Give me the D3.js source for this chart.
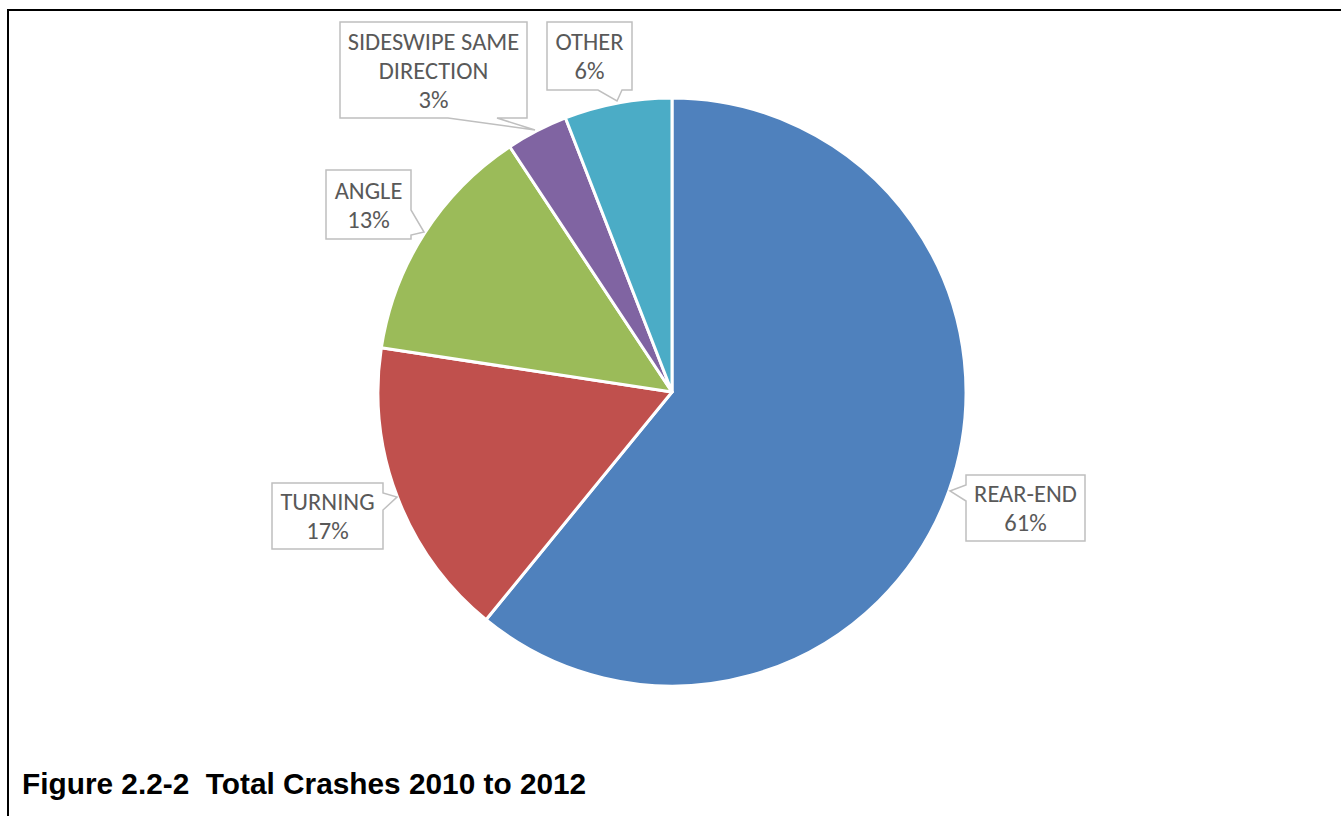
<!DOCTYPE html>
<html>
<head>
<meta charset="utf-8">
<script src="https://cdn.jsdelivr.net/npm/d3@7"></script>
<style>
  html, body { margin: 0; padding: 0; background: #fff; }
  svg { display: block; }
  text { white-space: pre; }
</style>
</head>
<body>
<svg id="chart" width="1341" height="816"></svg>
<script>
// ---- data ----
const categories = ["REAR-END", "TURNING", "ANGLE", "SIDESWIPE SAME DIRECTION", "OTHER"];
const values = [60.9, 16.5, 13.3, 3.4, 5.9];
const percentLabels = ["61%", "17%", "13%", "3%", "6%"];
const labelLines = [["REAR-END"], ["TURNING"], ["ANGLE"], ["SIDESWIPE SAME", "DIRECTION"], ["OTHER"]];
const colors = ["#4f81bd", "#c0504d", "#9bbb59", "#8064a2", "#4bacc6"];
const titleText = "Figure 2.2-2  Total Crashes 2010 to 2012";

// ---- layout (label callout boxes, positions relative to the page) ----
const layout = {
  cx: 672, cy: 392, r: 294,
  callouts: [
    { x: 966, y: 475, w: 119, h: 66, side: "left",   a: 485, b: 501, tip: [950, 491] },
    { x: 272, y: 483, w: 111, h: 66, side: "right",  a: 493, b: 510, tip: [397, 497] },
    { x: 326, y: 170, w: 85,  h: 69, side: "right",  a: 210, b: 235, tip: [424, 232] },
    { x: 340, y: 22,  w: 187, h: 96, side: "bottom", a: 448, b: 497, tip: [535, 130] },
    { x: 547, y: 22,  w: 85,  h: 68, side: "bottom", a: 598, b: 622, tip: [617, 101] }
  ]
};

const svg = d3.select("#chart");

// frame lines (top and left)
svg.append("line").attr("x1", 7).attr("y1", 10).attr("x2", 1341).attr("y2", 10)
  .attr("stroke", "#000").attr("stroke-width", 2);
svg.append("line").attr("x1", 8).attr("y1", 9).attr("x2", 8).attr("y2", 816)
  .attr("stroke", "#000").attr("stroke-width", 2);

// pie
const pie = d3.pie().sort(null).value(d => d.value);
const arc = d3.arc().innerRadius(0).outerRadius(layout.r);
const data = categories.map((c, i) => ({ cat: c, value: values[i], color: colors[i] }));

const g = svg.append("g").attr("transform", `translate(${layout.cx},${layout.cy})`);
g.selectAll("path.slice").data(pie(data)).enter().append("path")
  .attr("class", "slice")
  .attr("d", arc)
  .attr("fill", d => d.data.color)
  .attr("stroke", "#fff")
  .attr("stroke-width", 3)
  .attr("stroke-linejoin", "round");

// callouts
function calloutPath(c) {
  const x0 = c.x, y0 = c.y, x1 = c.x + c.w, y1 = c.y + c.h;
  const [tx, ty] = c.tip;
  if (c.side === "bottom") {
    return `M${x0},${y0}H${x1}V${y1}H${c.b}L${tx},${ty}L${c.a},${y1}H${x0}Z`;
  } else if (c.side === "right") {
    return `M${x0},${y0}H${x1}V${c.a}L${tx},${ty}L${x1},${c.b}V${y1}H${x0}Z`;
  } else {
    return `M${x0},${y0}H${x1}V${y1}H${x0}V${c.b}L${tx},${ty}L${x0},${c.a}Z`;
  }
}

const fontFam = "Carlito, 'Liberation Sans Narrow', Lato, sans-serif";
const lineH = 29;
layout.callouts.forEach((c, i) => {
  svg.append("path").attr("d", calloutPath(c))
    .attr("fill", "#fff").attr("stroke", "#bfbfbf").attr("stroke-width", 1.5);
  const lines = labelLines[i].concat([percentLabels[i]]);
  const cxm = c.x + c.w / 2;
  const cym = c.y + c.h / 2;
  const startY = cym - (lines.length - 1) * lineH / 2;
  lines.forEach((t, j) => {
    svg.append("text")
      .attr("x", cxm)
      .attr("y", startY + j * lineH)
      .attr("dy", "0.35em")
      .attr("text-anchor", "middle")
      .attr("font-family", fontFam)
      .attr("font-weight", 300)
      .attr("font-size", 24.5)
      .attr("fill", "#595959")
      .text(t);
  });
});

// title
svg.append("text")
  .attr("x", 22).attr("y", 794)
  .attr("font-family", "'Liberation Sans', Arial, sans-serif")
  .attr("font-weight", "bold")
  .attr("font-size", 29.8)
  .attr("fill", "#000")
  .text(titleText);
</script>
</body>
</html>
